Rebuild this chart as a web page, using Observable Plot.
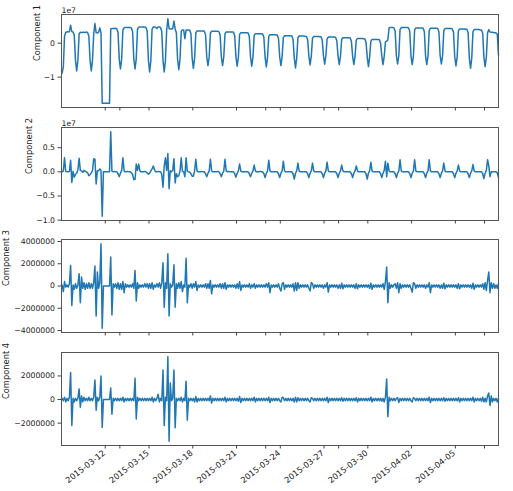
<!DOCTYPE html>
<html>
<head>
<meta charset="utf-8">
<script src="https://cdn.jsdelivr.net/npm/d3@7"></script>
<script src="https://cdn.jsdelivr.net/npm/@observablehq/plot@0.6"></script>
<style>
  body { margin: 0; background: #fff; }
  #chart { position: relative; width: 513px; height: 491px; background: #fff; overflow: hidden; }
  #chart svg { position: absolute; left: 0; max-width: none; }
</style>
</head>
<body>
<div id="chart"></div>
<script>
// Four decomposed components of an hourly signal, sampled every 2 hours
// (01:00, 03:00, ... 23:00), one row per day from 2015-03-09 to 2015-04-07.
// Values are in millions.
const panelLabels = ["Component 1", "Component 2", "Component 3", "Component 4"];
const firstDay = "2015-03-09";
const lastHour = "2015-04-07T23:00Z";
const hoursOfDay = [1, 3, 5, 7, 9, 11, 13, 15, 17, 19, 21, 23];

const component1 = [
  [-8.8, -7.0, 2.0, 3.2, 3.3, 3.4, 3.4, 5.3, 3.4, 3.3, 2.3, -5.0],
  [-8.2, -5.0, 2.8, 3.2, 3.1, 3.2, 3.2, 3.1, 3.3, 3.1, 2.1, -5.0],
  [-8.2, -5.0, 2.7, 5.8, 3.1, 3.0, 3.2, 4.5, 3.0, -17.7, -17.7, -17.7],
  [-17.7, -17.7, -17.7, -17.7, 4.2, 4.3, 4.3, 4.3, 4.4, 4.2, 3.2, -4.7],
  [-7.6, -4.6, 3.9, 4.5, 4.6, 4.6, 4.6, 4.6, 4.6, 4.5, 3.4, -4.6],
  [-7.6, -4.6, 4.1, 4.7, 4.8, 4.8, 4.8, 4.8, 4.8, 4.6, 3.6, -5.0],
  [-8.5, -5.1, 4.1, 4.8, 4.8, 4.7, 4.3, 4.8, 4.8, 4.6, 3.4, -5.1],
  [-8.5, -5.1, 3.8, 7.2, 4.3, 4.2, 4.2, 4.3, 6.5, 4.2, 3.1, -4.7],
  [-7.8, -4.7, 3.5, 3.9, 3.9, 1.3, 3.9, 3.9, 3.9, 3.8, 2.8, -4.5],
  [-7.4, -4.4, 3.1, 3.6, 3.6, 3.6, 3.6, 3.6, 3.6, 3.5, 2.5, -4.0],
  [-6.6, -4.0, 3.0, 3.5, 3.5, 3.5, 3.5, 3.5, 3.5, 3.4, 2.4, -4.0],
  [-6.6, -4.0, 2.8, 3.3, 3.3, 3.3, 3.3, 3.3, 3.3, 3.2, 2.2, -4.1],
  [-6.8, -4.1, 2.6, 3.1, 3.1, 3.1, 3.1, 3.1, 3.1, 3.0, 2.0, -4.1],
  [-6.8, -4.1, 2.3, 2.8, 2.8, 2.8, 2.8, 2.8, 2.7, 2.7, 1.7, -4.2],
  [-7.0, -4.2, 2.0, 2.5, 2.5, 2.5, 2.5, 2.5, 2.4, 2.4, 1.4, -4.0],
  [-6.6, -4.0, 1.7, 2.2, 2.2, 2.2, 2.2, 2.2, 2.2, 2.1, 1.1, -4.4],
  [-7.3, -4.4, 1.6, 2.1, 2.1, 2.1, 2.1, 2.1, 2.0, 2.0, 1.0, -3.8],
  [-6.4, -3.8, 1.5, 2.0, 2.0, 2.0, 2.0, 2.0, 1.9, 1.9, 0.9, -3.7],
  [-6.2, -3.7, 1.3, 1.8, 1.8, 1.8, 1.8, 1.8, 1.8, 1.7, 0.7, -3.8],
  [-6.3, -3.8, 1.1, 1.6, 1.6, 1.6, 1.6, 1.6, 1.6, 1.5, 0.5, -3.8],
  [-6.3, -3.8, 0.9, 1.4, 1.4, 1.4, 1.4, 1.4, 1.3, 1.3, 0.3, -4.1],
  [-6.9, -4.1, 0.6, 1.1, 1.1, 1.1, 1.1, 1.1, 1.1, 1.0, 0.0, -3.8],
  [-6.3, -3.8, 0.4, 0.6, 1.0, 4.5, 4.6, 4.6, 4.6, 4.5, 3.5, -3.7],
  [-6.1, -3.7, 4.0, 4.6, 4.6, 4.6, 4.6, 4.6, 4.6, 4.5, 3.5, -3.8],
  [-6.3, -3.8, 3.9, 4.5, 4.5, 4.5, 4.5, 4.5, 4.5, 4.4, 3.4, -3.8],
  [-6.3, -3.8, 3.8, 4.4, 4.4, 4.4, 4.4, 4.4, 4.4, 4.3, 3.3, -3.7],
  [-6.1, -3.7, 3.7, 4.3, 4.3, 4.3, 4.3, 4.3, 4.3, 4.2, 3.2, -4.0],
  [-6.7, -4.0, 3.6, 4.2, 4.2, 4.2, 4.2, 4.2, 4.1, 4.1, 3.1, -4.4],
  [-7.4, -4.4, 3.4, 4.0, 4.0, 4.0, 4.0, 4.0, 3.9, 3.9, 2.9, -4.1],
  [-6.9, -4.1, 3.0, 4.0, 3.3, 3.2, 3.2, 3.1, 3.1, 3.0, 2.6, -3.5]
];

const component2 = [
  [0.0, 0.2, 2.9, 0.1, 0.0, 0.0, 0.1, 2.4, -2.2, 0.1, -1.1, -0.5],
  [-0.3, 0.4, 2.8, 0.3, 0.2, -0.1, 0.3, 0.1, 0.0, -0.2, -0.8, -0.6],
  [-0.2, 0.3, 2.7, 2.6, -2.5, 0.2, 0.2, 0.6, 0.3, -9.2, 0.0, 0.0],
  [0.0, 0.0, 0.0, 0.0, 8.3, 0.1, 0.0, 0.1, 0.0, 0.0, -0.4, -1.0],
  [-0.3, 0.3, 2.9, 0.2, 0.0, 0.0, 0.1, 0.0, 0.0, -0.2, -0.6, -1.6],
  [-1.6, 1.6, 0.3, 1.6, 0.2, 0.0, 0.0, 0.0, 0.1, 0.0, -0.2, -0.5],
  [-0.3, 0.2, 0.6, 1.2, 0.4, 0.0, 0.0, 0.1, 0.0, 0.0, -0.5, -3.2],
  [1.2, 2.9, 0.3, 3.8, -3.5, 0.2, 0.0, 0.3, 2.7, -2.3, -0.4, -1.0],
  [-0.8, 0.2, 2.9, 0.1, 0.0, -1.0, 2.9, 0.1, 0.0, -0.1, -0.4, -0.9],
  [-0.9, 0.2, 2.6, 0.2, 0.0, 0.0, 0.0, 0.1, 0.0, 0.0, -0.4, -1.0],
  [-0.3, 0.2, 2.6, 0.2, 0.0, 0.0, 0.0, 0.0, 0.1, 0.0, -0.4, -1.0],
  [-0.3, 0.2, 2.6, 0.2, 0.0, 0.1, 0.0, 0.0, 0.0, 0.0, -0.4, -1.1],
  [-0.3, 0.2, 1.6, 0.2, 0.0, 0.0, 0.0, 0.0, 0.0, 0.0, -0.4, -1.0],
  [-0.3, 0.2, 1.4, 0.2, 0.0, 0.0, 0.0, 0.1, 0.0, 0.0, -0.4, -1.2],
  [-0.3, 0.2, 2.4, 0.2, 0.0, 0.0, 0.0, 0.0, 0.0, 0.0, -0.4, -1.2],
  [-0.3, 0.2, 2.2, 0.2, 0.0, 0.0, 0.0, 0.0, 0.0, 0.0, -0.4, -1.5],
  [-0.3, 0.2, 1.8, 0.2, 0.0, 0.0, 0.0, 0.0, 0.0, 0.0, -0.4, -1.2],
  [-0.3, 0.2, 1.8, 0.2, 0.0, 0.0, 0.0, 0.0, 0.0, 0.0, -0.4, -1.2],
  [-0.3, 0.2, 2.0, 0.2, 0.0, 0.0, 0.0, 0.0, 0.0, 0.0, -0.4, -1.2],
  [-0.3, 0.2, 1.4, 0.2, 0.0, 0.0, 0.0, 0.0, 0.0, 0.0, -0.4, -1.2],
  [-0.3, 0.2, 1.2, 0.2, 0.0, 0.0, 0.0, 0.0, 0.0, 0.0, -0.4, -1.5],
  [-0.3, 0.2, 2.0, 0.2, 0.0, 0.0, 0.0, 0.0, 0.0, 0.0, -0.4, -1.2],
  [-0.3, 0.3, 2.2, -1.0, 1.8, 0.2, 0.0, 0.0, 0.0, 0.0, -0.4, -1.2],
  [-0.3, 0.2, 2.5, 0.2, 0.0, 0.0, 0.0, 0.0, 0.0, 0.0, -0.4, -1.2],
  [-0.3, 0.2, 2.5, 0.2, 0.0, 0.0, 0.0, 0.0, 0.0, 0.0, -0.4, -1.2],
  [-0.3, 0.2, 2.5, 0.2, 0.0, 0.0, 0.0, 0.0, 0.0, 0.0, -0.4, -1.2],
  [-0.3, 0.2, 1.8, 0.2, 0.0, 0.0, 0.0, 0.0, 0.0, 0.0, -0.4, -1.2],
  [-0.3, 0.2, 1.4, 0.2, 0.0, 0.0, 0.0, 0.0, 0.0, 0.0, -0.4, -1.2],
  [-0.3, 0.2, 1.5, 0.2, 0.0, 0.0, 0.0, 0.0, 0.0, 0.0, -0.4, -1.4],
  [-0.3, 0.3, 2.5, 1.3, -1.0, 0.0, 0.0, 0.0, 0.0, 0.0, -0.2, -1.2]
];

const component3 = [
  [0.1, -0.5, 0.4, -0.1, 0.1, -0.1, 0.2, 1.85, -1.75, 0.1, -0.3, 0.2],
  [-0.2, 0.1, 1.1, -1.5, 0.8, -0.2, 0.3, -0.3, 0.2, -0.2, 0.3, -0.2],
  [0.2, -0.2, 0.3, 1.8, -2.7, 1.25, -0.2, 0.3, 3.8, -3.8, 0.0, 0.0],
  [0.0, 0.0, 0.0, 0.0, 2.6, -2.6, 0.2, -0.1, 0.2, -0.2, 0.3, -0.3],
  [0.2, -0.3, 0.4, -0.6, 0.2, -0.1, 0.1, -0.1, 0.1, -0.1, 0.2, -0.2],
  [1.4, -1.35, 0.3, -0.2, 0.1, -0.1, 0.1, -0.1, 0.2, -0.1, 0.2, -0.2],
  [0.2, -0.2, 0.3, -0.3, 0.1, -0.1, 0.2, -0.1, 0.3, -0.2, 0.3, 2.1],
  [-1.9, 0.3, -0.2, 2.9, -2.7, 0.2, -0.1, 0.1, 1.9, -1.9, 0.2, -0.2],
  [0.3, -0.2, 0.4, -0.5, 0.1, -0.1, 2.5, -1.5, 0.1, -0.1, 0.2, -0.2],
  [0.2, -0.1, 0.4, -0.4, 0.1, -0.1, 0.1, -0.1, 0.1, -0.1, 0.2, -0.2],
  [0.2, -0.2, 0.5, -0.7, 0.1, -0.1, 0.1, -0.1, 0.1, -0.1, 0.2, -0.2],
  [0.2, -0.2, 0.3, -0.3, 0.1, -0.1, 0.1, -0.1, 0.1, -0.1, 0.1, -0.2],
  [0.2, -0.2, 0.4, -0.4, 0.1, -0.1, 0.1, -0.1, 0.1, -0.1, 0.2, -0.2],
  [0.1, -0.1, 0.2, -0.2, 0.1, -0.1, 0.1, -0.1, 0.1, -0.1, 0.1, -0.1],
  [0.2, -0.1, 0.3, -0.6, 0.1, -0.1, 0.1, -0.1, 0.1, -0.1, 0.2, -0.2],
  [-0.45, 0.2, 0.3, -0.3, 0.1, -0.1, 0.1, -0.1, 0.1, -0.1, 0.2, -0.45],
  [0.3, -0.4, 0.3, -0.2, 0.1, -0.1, 0.1, -0.1, 0.1, -0.1, 0.1, -0.2],
  [-0.45, 0.3, 0.2, -0.2, 0.1, -0.1, 0.1, -0.1, 0.1, -0.1, 0.1, -0.2],
  [0.1, -0.1, 0.3, -0.55, 0.1, -0.1, 0.1, -0.1, 0.1, -0.1, 0.1, -0.2],
  [0.1, -0.2, 0.25, -0.25, 0.1, -0.1, 0.1, -0.1, 0.1, -0.1, 0.1, -0.1],
  [0.1, -0.2, 0.2, -0.25, 0.1, -0.1, 0.1, -0.1, 0.1, -0.1, 0.1, -0.1],
  [0.1, -0.2, 0.25, -0.3, 0.1, -0.1, 0.1, -0.1, 0.1, -0.1, 0.1, -0.1],
  [0.2, -0.3, 0.4, 1.7, -1.5, 0.3, -0.2, 0.1, -0.1, 0.1, 0.2, -0.2],
  [0.3, -0.6, 0.2, -0.2, 0.1, -0.1, 0.1, -0.1, 0.1, -0.1, 0.1, -0.2],
  [-0.55, 0.3, 0.2, -0.2, 0.1, -0.1, 0.1, -0.1, 0.1, -0.1, 0.1, -0.2],
  [0.1, -0.1, 0.3, -0.6, 0.1, -0.1, 0.1, -0.1, 0.1, -0.1, 0.1, -0.2],
  [0.1, -0.2, 0.25, -0.25, 0.1, -0.1, 0.1, -0.1, 0.1, -0.1, 0.1, -0.1],
  [0.1, -0.2, 0.2, -0.25, 0.1, -0.1, 0.1, -0.1, 0.1, -0.1, 0.1, -0.1],
  [0.1, -0.2, 0.25, -0.3, 0.1, -0.1, 0.1, -0.1, 0.1, -0.1, 0.2, -0.3],
  [0.3, -0.4, 0.5, 1.25, -0.6, 0.3, -0.2, 0.2, -0.2, 0.1, -0.2, 0.2]
];

const component4 = [
  [0.1, -0.1, 0.2, -0.2, 0.1, -0.1, 0.2, 2.3, -2.2, 0.1, -0.2, 0.1],
  [-0.1, 0.1, 0.9, -0.65, 0.3, -0.2, 0.2, -0.1, 0.1, -0.1, 0.2, -0.1],
  [0.1, -0.1, 0.2, 1.65, -0.9, 0.2, -0.1, 0.2, 2.0, -2.36, 0.0, 0.0],
  [0.0, 0.0, 0.0, 0.0, 0.98, -1.25, 0.1, -0.1, 0.1, -0.1, 0.1, -0.1],
  [0.1, -0.1, 0.2, -0.2, 0.1, -0.1, 0.1, -0.1, 0.1, -0.1, 0.1, -0.1],
  [1.8, -1.65, 0.2, -0.1, 0.1, -0.1, 0.1, -0.1, 0.1, -0.1, 0.1, -0.1],
  [0.1, -0.1, 0.2, -0.2, 0.1, -0.1, 0.1, 0.45, -0.2, 0.1, -0.1, 2.5],
  [-2.2, 0.2, -0.1, 3.63, -3.54, 1.4, -0.1, 0.1, 2.5, -2.4, 0.1, -0.1],
  [0.1, -0.1, 0.2, -0.2, 0.1, -0.1, 1.55, -1.75, 0.1, -0.1, 0.1, -0.1],
  [0.1, -0.2, 0.25, -0.2, 0.1, -0.1, 0.1, -0.1, 0.1, -0.1, 0.1, -0.1],
  [0.1, -0.1, 0.3, -0.3, 0.1, -0.1, 0.1, -0.1, 0.1, -0.1, 0.1, -0.1],
  [0.1, -0.1, 0.2, -0.2, 0.1, -0.1, 0.1, -0.1, 0.1, -0.1, 0.1, -0.1],
  [0.1, -0.15, 0.25, -0.25, 0.1, -0.1, 0.1, -0.1, 0.1, -0.1, 0.1, -0.1],
  [0.1, -0.1, 0.2, -0.2, 0.1, -0.1, 0.1, -0.1, 0.1, -0.1, 0.1, -0.1],
  [0.1, -0.1, 0.2, -0.25, 0.1, -0.1, 0.1, -0.1, 0.1, -0.1, 0.1, -0.1],
  [-0.2, 0.2, 0.15, -0.1, 0.1, -0.1, 0.1, -0.1, 0.1, -0.1, 0.1, -0.2],
  [0.2, -0.2, 0.15, -0.1, 0.1, -0.1, 0.1, -0.1, 0.1, -0.1, 0.1, -0.1],
  [-0.2, 0.15, 0.1, -0.1, 0.1, -0.1, 0.1, -0.1, 0.1, -0.1, 0.1, -0.1],
  [0.1, -0.1, 0.2, -0.25, 0.1, -0.1, 0.1, -0.1, 0.1, -0.1, 0.1, -0.1],
  [0.1, -0.1, 0.15, -0.15, 0.1, -0.1, 0.1, -0.1, 0.1, -0.1, 0.1, -0.1],
  [0.1, -0.1, 0.15, -0.2, 0.1, -0.1, 0.1, -0.1, 0.1, -0.1, 0.1, -0.1],
  [0.1, -0.1, 0.2, -0.2, 0.1, -0.1, 0.1, -0.1, 0.1, -0.1, 0.1, -0.15],
  [0.1, -0.2, 0.2, 1.75, -1.45, 0.2, -0.1, 0.1, -0.1, 0.1, -0.1, 0.1],
  [0.15, -0.25, 0.1, -0.1, 0.1, -0.1, 0.1, -0.1, 0.1, -0.1, 0.1, -0.1],
  [-0.2, 0.15, 0.1, -0.1, 0.1, -0.1, 0.1, -0.1, 0.1, -0.1, 0.1, -0.1],
  [0.1, -0.1, 0.2, -0.25, 0.1, -0.1, 0.1, -0.1, 0.1, -0.1, 0.1, -0.1],
  [0.1, -0.1, 0.15, -0.15, 0.1, -0.1, 0.1, -0.1, 0.1, -0.1, 0.1, -0.1],
  [0.1, -0.1, 0.15, -0.2, 0.1, -0.1, 0.1, -0.1, 0.1, -0.1, 0.1, -0.1],
  [0.1, -0.1, 0.2, -0.2, 0.1, -0.1, 0.1, -0.1, 0.1, -0.15, 0.2, -0.2],
  [0.1, -0.2, 0.3, 0.55, -0.5, 0.3, -0.2, 0.1, -0.1, 0.1, -0.2, 0.1]
];

// Axis ticks
const majorDates = ["2015-03-12", "2015-03-15", "2015-03-18", "2015-03-21", "2015-03-24",
                    "2015-03-27", "2015-03-30", "2015-04-02", "2015-04-05"];
const minorDates = ["2015-03-13", "2015-03-23", "2015-03-28", "2015-04-07"];
const yTicks = [
  [-1e7, 0],
  [-1e7, -0.5e7, 0, 0.5e7],
  [-4e6, -2e6, 0, 2e6, 4e6],
  [-2e6, 0, 2e6]
];
const offsetLabels = ["1e7", "1e7", null, null];

const minus = (s) => s.replace("-", "\u2212");
const yFormats = [
  (d) => minus(String(d / 1e7)),
  (d) => minus((d / 1e7).toFixed(1)),
  (d) => minus(String(d)),
  (d) => minus(String(d))
];

const components = [component1, component2, component3, component4];
const day0 = new Date(firstDay + "T00:00Z");
const tEnd = new Date(lastHour);
const parseDay = (s) => new Date(s + "T00:00Z");
const formatDay = d3.utcFormat("%Y-%m-%d");

function toRows(days) {
  const rows = [];
  days.forEach((vals, d) => {
    vals.forEach((v, k) => {
      rows.push({ t: d3.utcHour.offset(d3.utcDay.offset(day0, d), hoursOfDay[k]), v: v * 1e6 });
    });
  });
  return rows;
}

// Layout of the four stacked panels (frame top, frame height, label offset)
const frameTops = [14, 126.7, 239.4, 352];
const frameHeight = 93;
const labelOffsets = [24, 32, 54.7, 54.7];
const chart = document.getElementById("chart");

components.forEach((days, i) => {
  const rows = toRows(days);
  const [lo, hi] = d3.extent(rows, (r) => r.v);
  const pad = (hi - lo) * 0.05;
  const isLast = i === components.length - 1;
  const marginTop = 16;
  const marginBottom = isLast ? 491 - (frameTops[i] + frameHeight) : 6;

  const marks = [
    Plot.line(rows, { x: "t", y: "v", stroke: "#1f77b4", strokeWidth: 1.5 }),
    Plot.frame({ stroke: "#555", strokeWidth: 1 }),
    Plot.axisY({
      ticks: yTicks[i], tickFormat: yFormats[i], tickSize: 3.5, tickPadding: 3,
      label: null, stroke: "#444"
    }),
    Plot.axisX({
      ticks: majorDates.concat(minorDates).map(parseDay), tickSize: 3.5, label: null,
      stroke: "#444", tickFormat: () => ""
    }),
    Plot.text([panelLabels[i]], {
      frameAnchor: "left", dx: -labelOffsets[i], rotate: -90, fill: "#222", fontSize: 8.3
    })
  ];
  if (isLast) {
    marks.push(Plot.text(majorDates.map(parseDay), {
      x: (d) => d, text: formatDay, frameAnchor: "bottom",
      rotate: -38, textAnchor: "end", lineAnchor: "top",
      dx: -3, dy: 4, fill: "#222", fontSize: 8.2
    }));
  }
  if (offsetLabels[i]) {
    marks.push(Plot.text([offsetLabels[i]], {
      frameAnchor: "top-left", textAnchor: "start", lineAnchor: "bottom", dy: -2, fill: "#222"
    }));
  }

  const svg = Plot.plot({
    width: 513,
    height: frameHeight + marginTop + marginBottom,
    marginLeft: 61,
    marginRight: 15,
    marginTop,
    marginBottom,
    style: { fontFamily: "DejaVu Sans", fontSize: "7.7px", color: "#222", background: "none", overflow: "visible" },
    x: { type: "utc", domain: [day0, tEnd] },
    y: { domain: [lo - pad, hi + pad] },
    marks
  });
  svg.style.top = (frameTops[i] - marginTop) + "px";
  chart.appendChild(svg);
});
</script>
</body>
</html>
